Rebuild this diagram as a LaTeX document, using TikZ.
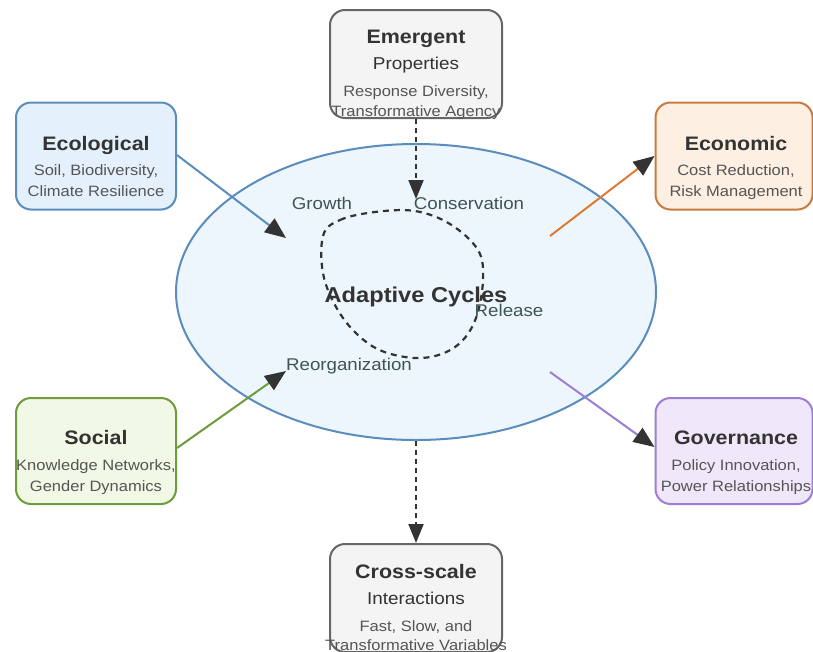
\documentclass[tikz,border=0pt]{standalone}
\usepackage{fontspec}
\setmainfont{Liberation Sans}[FakeStretch=1.1]
\usetikzlibrary{arrows.meta,shapes.geometric}
\definecolor{ecofill}{HTML}{E4F0FC}
\definecolor{ecoline}{HTML}{5A8DBD}
\definecolor{econfill}{HTML}{FDEFE2}
\definecolor{econline}{HTML}{C97B3F}
\definecolor{econarrow}{HTML}{DD7B30}
\definecolor{socfill}{HTML}{F2F8E6}
\definecolor{socline}{HTML}{6E9B3C}
\definecolor{govfill}{HTML}{F1E7FA}
\definecolor{govline}{HTML}{9C7ED6}
\definecolor{grayfill}{HTML}{F4F4F4}
\definecolor{grayline}{HTML}{666666}
\definecolor{cyclefill}{HTML}{EEF6FD}
\definecolor{cycleline}{HTML}{5A8DBD}
\definecolor{titletext}{HTML}{333333}
\definecolor{subtext}{HTML}{555555}
\definecolor{phasetext}{HTML}{3E5454}
\definecolor{tipcol}{HTML}{333333}
\tikzset{
  panel/.style={draw, line width=2pt, rounded corners=15pt, inner sep=0pt},
  title/.style={inner sep=0pt, text depth=0pt, text height=14pt,
    font=\bfseries\fontsize{19.5}{22}\selectfont, text=titletext},
  subtitle/.style={inner sep=0pt, text depth=0pt, text height=12.4pt,
    font=\fontsize{17.2}{19}\selectfont, text=titletext},
  detail/.style={inner sep=0pt, text depth=0pt, text height=10.8pt,
    font=\fontsize{15}{17}\selectfont, text=subtext},
  phase/.style={inner sep=0pt, text depth=0pt, text height=12.2pt,
    font=\fontsize{17}{19}\selectfont, text=phasetext},
  link/.style={line width=2pt, -{Triangle[length=21pt,width=17pt,color=tipcol]}},
  dlink/.style={line width=2pt, draw=tipcol, dash pattern=on 5pt off 4pt,
    -{Triangle[length=19pt,width=15pt,color=tipcol]}},
}
\begin{document}
\begin{tikzpicture}[x=1pt,y=-1pt]
\useasboundingbox (0,0) rectangle (813,651);
\fill[white] (0,0) rectangle (813,651);

% central adaptive-cycle ellipse
\node (cycle) [ellipse, draw=cycleline, fill=cyclefill, line width=2pt,
  minimum width=480pt, minimum height=296pt, inner sep=0pt] at (416,292) {};

% dashed loop of the four phases
\draw[line width=2.2pt, draw=tipcol, dash pattern=on 6pt off 5pt]
  plot[smooth cycle, tension=0.6] coordinates {
    (323,236) (340,220) (375,212) (415,211) (450,224) (478,250)
    (483,280) (476,318) (460,343) (435,356) (405,357) (372,346)
    (343,318) (324,278)};

\node (cycletitle) [inner sep=0pt, text depth=0pt, text height=15.5pt,
  font=\bfseries\fontsize{21.5}{24}\selectfont, text=titletext] at (416,295) {Adaptive Cycles};
\node (growth) [phase] at (322,203) {Growth};
\node (conservation) [phase] at (469,203) {Conservation};
\node (release) [phase] at (509,310) {Release};
\node (reorg) [phase] at (349,364) {Reorganization};

% emergent properties (top)
\node (emergent) [panel, draw=grayline, fill=grayfill, minimum width=172pt, minimum height=108pt] at (416,64) {};
\node (emtitle) [title] at (416,36) {Emergent};
\node (emsub) [subtitle] at (416,63) {Properties};
\node (emd1) [detail] at (416,91) {Response Diversity,};
\node (emd2) [detail] at (416,111) {Transformative Agency};

% cross-scale interactions (bottom)
\node (cross) [panel, draw=grayline, fill=grayfill, minimum width=172pt, minimum height=108pt] at (416,598) {};
\node (crtitle) [title] at (416,571) {Cross-scale};
\node (crsub) [subtitle] at (416,598) {Interactions};
\node (crd1) [detail] at (416,626) {Fast, Slow, and};
\node (crd2) [detail] at (416,645) {Transformative Variables};

% ecological (upper left)
\node (eco) [panel, draw=ecoline, fill=ecofill, minimum width=160pt, minimum height=107pt] at (96,156) {};
\node (ecotitle) [title] at (96,143) {Ecological};
\node (ecod1) [detail] at (96,170) {Soil, Biodiversity,};
\node (ecod2) [detail] at (96,191) {Climate Resilience};

% economic (upper right)
\node (econ) [panel, draw=econline, fill=econfill, minimum width=157pt, minimum height=107pt] at (734,156) {};
\node (econtitle) [title] at (736,143) {Economic};
\node (econd1) [detail] at (736,170) {Cost Reduction,};
\node (econd2) [detail] at (736,191) {Risk Management};

% social (lower left)
\node (soc) [panel, draw=socline, fill=socfill, minimum width=160pt, minimum height=106pt] at (96,451) {};
\node (soctitle) [title] at (96,437) {Social};
\node (socd1) [detail] at (96,465) {Knowledge Networks,};
\node (socd2) [detail] at (96,486) {Gender Dynamics};

% governance (lower right)
\node (gov) [panel, draw=govline, fill=govfill, minimum width=157pt, minimum height=106pt] at (734,451) {};
\node (govtitle) [title] at (736,437) {Governance};
\node (govd1) [detail] at (736,465) {Policy Innovation,};
\node (govd2) [detail] at (736,486) {Power Relationships};

% arrow end points on the cycle
\coordinate (ecoend) at (286,238);
\coordinate (socend) at (286,371);
\coordinate (econstart) at (550,236);
\coordinate (govstart) at (550,372);
\coordinate (emend) at (416,199);
\coordinate (crstart) at (416,441);

% connectors
\draw[link, draw=ecoline] (eco.east |- 0,155) -- (ecoend);
\draw[link, draw=socline] (soc.east |- 0,448) -- (socend);
\draw[link, draw=econarrow] (econstart) -- (econ.west |- 0,156);
\draw[link, draw=govline] (govstart) -- (gov.west |- 0,447);
\draw[dlink] (emergent.south) -- (emend);
\draw[dlink] (crstart) -- (cross.north);
\end{tikzpicture}
\end{document}
